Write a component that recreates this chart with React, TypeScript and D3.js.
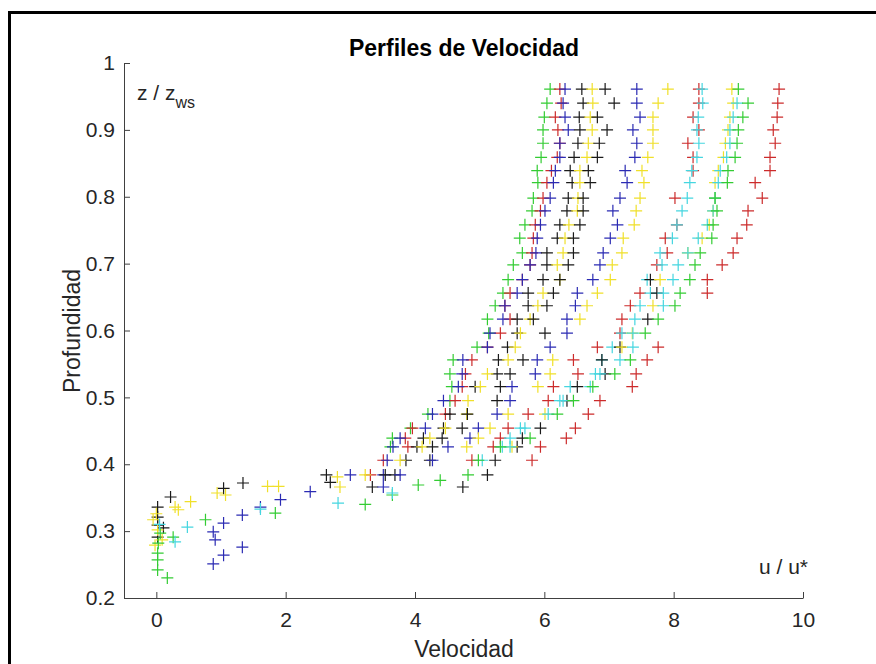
import React, { useEffect, useRef } from "react";
import * as d3 from "d3";

const W = 876;
const H = 664;
const FONT = "'Liberation Sans', Arial, Helvetica, sans-serif";

const GREEN = "#33cc33";
const RED = "#cc2b2b";
const BLUE = "#2b2bb3";
const BLACK = "#1a1a1a";
const YELLOW = "#f0e02a";
const CYAN = "#45d6e0";

// measurement levels z / z_ws (top to bottom)
const zLevels = [0.961, 0.94, 0.919, 0.9, 0.88, 0.859, 0.839, 0.821, 0.798, 0.779, 0.758, 0.738, 0.716, 0.698, 0.676, 0.656, 0.637, 0.617, 0.596, 0.575, 0.556, 0.535, 0.516, 0.495, 0.475, 0.454, 0.439, 0.426, 0.406, 0.384, 0.366];

// u / u* per profile at each level (null = no measurement)
const green1 = [6.09, 6.04, 6.0, 5.98, 5.98, 5.95, 5.89, 5.9, 5.83, 5.81, 5.7, 5.62, 5.66, 5.52, 5.44, 5.36, 5.24, 5.12, 5.14, 4.96, 4.59, 4.54, 4.57, 4.54, 4.2, 3.93, 3.65, 3.62, null, null, null];
const red1 = [6.24, 6.26, 6.17, 6.21, 6.24, 6.2, 6.11, 6.04, 5.98, 5.94, 5.86, 5.83, 5.81, 5.78, 5.66, 5.47, 5.39, 5.47, 5.32, 5.12, 4.88, 4.78, 4.73, 4.62, 4.47, 3.96, 3.85, 3.89, 3.51, 3.31, null];
const blue1 = [6.32, 6.29, 6.32, 6.37, 6.24, 6.24, 6.17, 6.14, 6.09, 6.01, 5.94, 5.89, 5.87, 5.78, 5.66, 5.58, 5.39, 5.36, 5.16, 5.12, 4.74, 4.73, 4.67, 4.44, 4.27, 4.16, 3.77, 3.66, 3.57, 3.51, null];
const black1 = [6.58, 6.6, 6.54, 6.55, 6.52, 6.46, 6.4, 6.43, 6.37, 6.35, 6.24, 6.2, 6.04, 6.04, 5.98, 5.75, 5.75, 5.58, 5.58, 5.43, 5.29, 5.27, 4.93, null, 4.54, 4.44, 4.13, 4.03, 3.86, 3.54, 3.34];
const yellow1 = [6.74, 6.75, 6.71, 6.74, 6.68, 6.66, 6.55, 6.55, 6.52, 6.51, 6.38, 6.32, 6.29, 6.2, 6.24, 5.98, 5.9, 5.78, 5.63, 5.55, 5.44, 5.12, 5.01, 4.82, 4.8, 4.47, 4.23, 4.11, 3.77, 3.23, 2.84];
const black2 = [6.94, 7.08, 6.82, 6.97, 6.85, 6.82, 6.68, 6.71, 6.6, 6.6, 6.55, 6.45, 6.45, 6.37, 6.24, 6.14, 6.04, 5.83, 6.01, null, 5.67, 5.47, 5.32, 5.27, 4.81, 4.73, 4.42, 4.27, 4.23, 3.69, null];
const blue2 = [7.43, 7.43, 7.48, 7.37, 7.43, 7.4, 7.25, 7.28, 7.17, 7.06, 7.13, 7.02, 6.91, 6.86, 6.75, 6.51, 6.48, 6.35, 6.35, 6.09, 5.89, 5.86, 5.5, 5.47, 5.27, 4.98, 4.85, 4.51, 4.27, 3.77, 3.51];
const yellow2 = [7.91, 7.76, 7.68, 7.68, 7.68, 7.6, 7.51, 7.54, 7.48, 7.42, 7.39, 7.22, 7.2, 7.05, 7.02, 6.82, 6.66, 6.55, null, null, 6.13, 6.09, 5.9, null, 5.44, 5.16, 4.98, 4.8, null, null, null];
const red2 = [8.39, 8.39, 8.3, 8.39, 8.22, 8.3, 8.3, null, 8.02, null, 8.05, 7.87, 7.9, 7.74, null, 7.48, 7.33, 7.2, 7.17, 6.82, 6.45, 6.52, 6.14, 6.06, 5.75, 5.44, 5.32, 5.21, 4.88, null, null];
const cyan1 = [8.44, 8.45, 8.38, 8.36, 8.39, 8.36, 8.28, 8.25, 8.21, 8.13, 8.05, 7.98, 7.79, 7.82, 7.59, 7.64, 7.48, 7.4, 7.2, 7.05, 6.89, 6.79, 6.4, 6.24, null, 5.63, 5.47, 5.35, 5.04, null, null];
const black3 = [null, null, null, null, null, null, null, null, null, null, null, null, null, null, 7.64, 7.74, null, 7.6, null, 7.17, 6.89, 6.94, 6.51, 6.35, null, 5.94, 5.66, 5.58, 5.24, 5.12, 4.74];
const yellow3 = [8.9, 8.92, 8.87, 8.84, 8.8, 8.77, 8.69, 8.64, 8.64, 8.61, 8.55, 8.44, 8.22, null, 7.79, null, 7.68, null, 7.36, 7.2, null, null, null, null, 6.01, null, null, 5.5, null, null, null];
const cyan2 = [null, 8.98, 8.92, 8.87, 8.87, 8.82, 8.72, 8.69, 8.64, 8.61, 8.52, 8.38, 8.22, 8.07, 7.99, 7.84, 7.84, null, 7.37, 7.37, 7.17, 6.86, 6.71, 6.29, 6.06, 5.7, null, 5.47, null, null, null];
const green2 = [9.0, 9.15, 9.07, 9.0, 8.98, 8.95, 8.84, 8.83, 8.64, 8.67, 8.61, 8.59, 8.41, 8.33, 8.25, 8.1, 8.02, 7.76, 7.56, null, 7.33, 7.09, 6.75, 6.45, 6.2, null, 5.78, 5.32, 4.98, 4.82, null];
const red3 = [9.63, 9.61, 9.6, 9.54, 9.57, 9.49, 9.49, 9.26, 9.37, 9.15, 9.13, 8.98, 8.92, 8.75, 8.52, 8.52, null, null, null, 7.76, 7.59, 7.42, 7.36, 6.86, 6.68, 6.48, 6.34, 5.94, 5.81, null, null];

// near-bed points [u / u*, z / z_ws]
const blackBed = [[2.63, 0.384], [2.69, 0.373], [1.34, 0.372], [1.04, 0.364], [0.22, 0.351], [0.02, 0.336], [0.02, 0.321], [0.11, 0.305], [0.02, 0.309], [0.02, 0.291]];
const yellowBed = [[2.8, 0.381], [1.89, 0.367], [1.72, 0.367], [0.94, 0.357], [1.07, 0.354], [0.53, 0.344], [0.34, 0.332], [0.29, 0.336], [0.0, 0.326], [-0.05, 0.317], [0.02, 0.302], [0.09, 0.287], [-0.02, 0.279]];
const greenBed = [[4.39, 0.376], [4.05, 0.369], [3.65, 0.354], [3.23, 0.34], [1.84, 0.327], [0.76, 0.317], [0.26, 0.291], [0.06, 0.297], [0.03, 0.282], [0.02, 0.267], [0.02, 0.257], [0.02, 0.242], [0.17, 0.23]];
const blueBed = [[3.0, 0.384], [2.38, 0.359], [1.92, 0.347], [1.61, 0.336], [1.33, 0.324], [1.04, 0.312], [0.88, 0.299], [0.91, 0.287], [1.33, 0.276], [1.04, 0.264], [0.88, 0.251]];
const cyanBed = [[3.65, 0.357], [2.81, 0.342], [1.61, 0.333], [0.48, 0.306], [0.05, 0.31], [0.29, 0.284]];

const xTicks = [0, 2, 4, 6, 8, 10];
const yTicks = [0.2, 0.3, 0.4, 0.5, 0.6, 0.7, 0.8, 0.9, 1];

const profiles = [
  { color: GREEN, u: green1 },
  { color: RED, u: red1 },
  { color: BLUE, u: blue1 },
  { color: BLACK, u: black1 },
  { color: YELLOW, u: yellow1 },
  { color: BLACK, u: black2 },
  { color: BLUE, u: blue2 },
  { color: YELLOW, u: yellow2 },
  { color: RED, u: red2 },
  { color: CYAN, u: cyan1 },
  { color: BLACK, u: black3 },
  { color: YELLOW, u: yellow3 },
  { color: CYAN, u: cyan2 },
  { color: GREEN, u: green2 },
  { color: RED, u: red3 },
];

const bedSets = [
  { color: BLACK, pts: blackBed },
  { color: YELLOW, pts: yellowBed },
  { color: GREEN, pts: greenBed },
  { color: BLUE, pts: blueBed },
  { color: CYAN, pts: cyanBed },
];

export default function App() {
  const ref = useRef<SVGSVGElement>(null);

  useEffect(() => {
    const svg = d3.select(ref.current);
    svg.selectAll("*").remove();

    const x = d3.scaleLinear().domain([-0.5, 10]).range([124, 803]);
    const y = d3.scaleLinear().domain([0.2, 1]).range([598, 63]);

    svg.append("rect").attr("width", W).attr("height", H).attr("fill", "#fff");
    // figure frame
    svg
      .append("rect")
      .attr("x", 9.5)
      .attr("y", 12.5)
      .attr("width", W)
      .attr("height", H)
      .attr("fill", "none")
      .attr("stroke", "#000")
      .attr("stroke-width", 3);

    // flatten all markers
    const marks: { u: number; z: number; color: string }[] = [];
    profiles.forEach((p) => {
      p.u.forEach((u, i) => {
        if (u != null) marks.push({ u, z: zLevels[i], color: p.color });
      });
    });
    bedSets.forEach((b) => {
      b.pts.forEach(([u, z]) => marks.push({ u, z, color: b.color }));
    });

    svg
      .append("g")
      .selectAll("path")
      .data(marks)
      .enter()
      .append("path")
      .attr("transform", (d) => `translate(${x(d.u)},${y(d.z)})`)
      .attr("d", "M-6,0H6M0,-6V6")
      .attr("stroke", (d) => d.color)
      .attr("stroke-width", 1.2)
      .attr("fill", "none");

    // axes
    const gy = svg
      .append("g")
      .attr("transform", "translate(124,0)")
      .call(
        d3
          .axisLeft(y)
          .tickValues(yTicks)
          .tickFormat((d: any) => (d === 1 ? "1" : d3.format(".1f")(d)))
          .tickSize(-6)
          .tickSizeOuter(0)
          .tickPadding(9)
      );
    const gx = svg
      .append("g")
      .attr("transform", "translate(0,598)")
      .call(
        d3
          .axisBottom(x)
          .tickValues(xTicks)
          .tickFormat((d: any) => String(d))
          .tickSize(-6)
          .tickSizeOuter(0)
          .tickPadding(14)
      );
    [gx, gy].forEach((g) => {
      g.select(".domain").attr("stroke", "#404040").attr("stroke-width", 1);
      g.selectAll(".tick line").attr("stroke", "#404040");
      g.selectAll("text").attr("font-family", FONT).attr("font-size", 21).attr("fill", "#262626");
    });

    const txt = (sx: number, sy: number, s: string, size: number, anchor = "middle") =>
      svg
        .append("text")
        .attr("x", sx)
        .attr("y", sy)
        .attr("text-anchor", anchor)
        .attr("font-family", FONT)
        .attr("font-size", size)
        .attr("fill", "#262626")
        .text(s);

    txt(464, 56, "Perfiles de Velocidad", 23).attr("font-weight", "bold").attr("fill", "#000");
    txt(464, 657, "Velocidad", 23);
    txt(0, 0, "Profundidad", 23).attr("transform", "translate(80,331) rotate(-90)");

    const zl = txt(137, 100, "z / z", 21, "start");
    zl.append("tspan").attr("dy", 8).attr("font-size", 16).text("ws");
    txt(759, 574, "u / u*", 21, "start");
  }, []);

  return <svg ref={ref} width={W} height={H} style={{ position: "absolute", left: 0, top: 0 }} />;
}
